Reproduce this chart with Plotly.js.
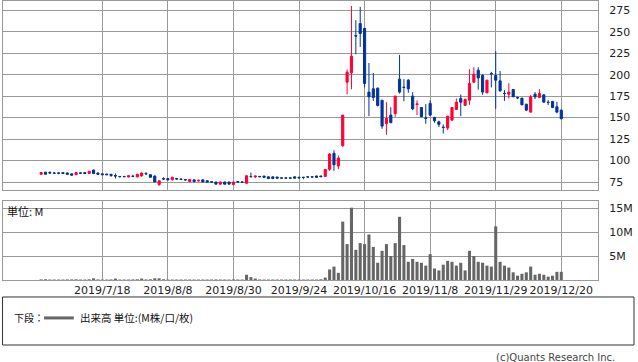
<!DOCTYPE html>
<html><head><meta charset="utf-8">
<script src="https://cdn.plot.ly/plotly-3.0.1.min.js"></script>
<style>html,body{margin:0;padding:0;background:#fff}#chart{width:638px;height:362px}</style>
</head><body><div id="chart"></div>
<script>
const dates = ["2019/6/27","2019/6/28",
"2019/7/1","2019/7/2","2019/7/3","2019/7/4","2019/7/5","2019/7/8","2019/7/9","2019/7/10","2019/7/11","2019/7/12","2019/7/16","2019/7/17","2019/7/18","2019/7/19","2019/7/22","2019/7/23","2019/7/24","2019/7/25","2019/7/26","2019/7/29","2019/7/30","2019/7/31",
"2019/8/1","2019/8/2","2019/8/5","2019/8/6","2019/8/7","2019/8/8","2019/8/9","2019/8/13","2019/8/14","2019/8/15","2019/8/16","2019/8/19","2019/8/20","2019/8/21","2019/8/22","2019/8/23","2019/8/26","2019/8/27","2019/8/28","2019/8/29","2019/8/30",
"2019/9/2","2019/9/3","2019/9/4","2019/9/5","2019/9/6","2019/9/9","2019/9/10","2019/9/11","2019/9/12","2019/9/13","2019/9/17","2019/9/18","2019/9/19","2019/9/20","2019/9/24","2019/9/25","2019/9/26","2019/9/27","2019/9/30",
"2019/10/1","2019/10/2","2019/10/3","2019/10/4","2019/10/7","2019/10/8","2019/10/9","2019/10/10","2019/10/11","2019/10/15","2019/10/16","2019/10/17","2019/10/18","2019/10/21","2019/10/23","2019/10/24","2019/10/25","2019/10/28","2019/10/29","2019/10/30","2019/10/31",
"2019/11/1","2019/11/5","2019/11/6","2019/11/7","2019/11/8","2019/11/11","2019/11/12","2019/11/13","2019/11/14","2019/11/15","2019/11/18","2019/11/19","2019/11/20","2019/11/21","2019/11/22","2019/11/25","2019/11/26","2019/11/27","2019/11/28","2019/11/29",
"2019/12/2","2019/12/3","2019/12/4","2019/12/5","2019/12/6","2019/12/9","2019/12/10","2019/12/11","2019/12/12","2019/12/13","2019/12/16","2019/12/17","2019/12/18","2019/12/19","2019/12/20"];

const openP = [84,86.5,86,85.5,85.5,86,85.5,84.5,83.5,85.5,
86,85,89,85.5,84.5,84.3,84,82.5,81.5,81.5,
80.8,81.8,81,82,84.8,83.5,82,72,79,79,
77.5,79,78.5,77.8,75.5,77.5,76.2,77.5,76.5,75.2,
75,72.5,75,75,72,75.5,75,73.5,81.5,81,
81.5,82,81,81,80.8,79.8,79.8,79.8,81,80.5,
80.5,81,81,82,82,81.5,89.8,108.4,93.6,117.2,
191.3,202.1,245.5,259.5,254,179.7,183.5,184.3,170.3,142.8,
152.9,154.8,194.8,185.5,193.6,175,165.2,161.8,149.6,166.5,
150.2,145.1,138.8,137.8,147.1,159.5,172.3,164.2,170.3,191.2,
205.2,199,178.8,201.4,199,192.8,178.3,177.3,182.8,173.3,
172.7,165.7,156.4,177.3,173.5,176.5,167.9,168.8,162.6,158.7];

const highP = [86.5,86.5,87.5,86.5,86,86.5,86,85,86.5,86.5,
86.5,87.5,89.3,86,85,84.5,84.5,85,82,82,
82.5,83.5,84.5,86,86.5,84,82.5,76.5,80.5,79.5,
81,79.5,79,78.5,78.5,78,77.5,78.3,77,75.5,
75,75.3,75.3,75,75.2,76,75.5,82.5,86,82,
82,82,81.5,81.3,81,80.3,80.3,80.3,81.5,81,
81,81.5,81.5,82.3,82.3,90,108.5,112,106,152.9,
206,280,263.4,279,254,213.7,202,185,170.3,168,
162,175.5,223,194.8,194.8,179.7,170,162,165.7,170,
151,146.5,142,151.7,161.8,172.3,177,172.3,206.4,208.7,
208.7,200.5,194,203.3,227.3,204.4,182,190,183,174.5,
173,166,176.5,179.7,183,177.3,170.3,169.5,168.3,159.5];

const lowP = [83.5,84,84.5,84.5,84,84.5,83.5,82.5,83.5,84.5,
85,84.5,84.5,83.5,83.5,83,81,79,80.5,81,
80.5,80.5,80.5,81.5,83.5,80,75,70.5,77.5,77,
77,77.5,77.5,76.5,75,75,75.5,75,74.5,74.5,
72.5,72,72,72.5,71.5,74,74.3,73.3,80.5,79.5,
80.5,80,78.5,78.5,79,79,79,79,79.3,79.5,
78.2,80.5,80.5,80.3,81,81,88,88,90,116,
177,183,223.8,232.3,185.1,151.7,169.5,163,137,130,
144,151,178,169,178.8,158.7,152.9,151,142.8,151.7,
144,139,131.5,135.5,146,159,151.7,163.5,164.9,190.5,
182.6,176.5,178.5,185.1,160.2,180,169.5,172.3,174,171.5,
164.5,157.5,155.7,171.5,172.7,167.3,164.5,161,155,148.6];

const closeP = [86,84,85.5,85.3,85.3,85,84,83,86,85.3,
85,87.5,84.8,84,83.5,83.5,82.5,82,81.2,81.2,
82.3,81.5,84,85.5,84.5,80.5,75,76.5,78.5,77.5,
80.5,78.5,78,77.5,78,75.5,77,75,75,75,
72.5,75,72.5,72.5,75,75,74.8,82.3,81.2,82,
81.2,80.5,79,79,79.5,79.5,79.5,79.5,79.5,79.8,
80.3,80.8,80.8,80.5,81.2,89.6,107.6,95.1,102.9,152.9,
202.9,221.5,245,247.9,189.8,174.2,173.5,164.2,140.1,149,
144,175,179.7,185.1,183.5,160.2,165.9,151,149.2,152.9,
146.3,142.1,138.6,151.7,161.8,168,168,171.1,189.8,200.5,
196.2,179.7,193.6,201,193.6,181.2,178,179.7,174.2,173,
164.9,158.7,174.2,174.2,178.1,168,167.7,161.8,156.4,148.6];

// volume in millions
const volumeM = [0.12,0.15,0.1,0.1,0.1,0.1,0.12,0.12,0.15,0.1,
0.1,0.15,0.35,0.12,0.1,0.1,0.12,0.3,0.1,0.1,
0.1,0.12,0.15,0.3,0.12,0.15,0.35,0.35,0.15,0.1,
0.1,0.1,0.1,0.1,0.1,0.1,0.1,0.1,0.1,0.1,
0.12,0.1,0.1,0.1,0.12,0.1,0.1,1.1,0.6,0.3,
0.12,0.1,0.1,0.1,0.1,0.1,0.1,0.1,0.1,0.1,
0.1,0.1,0.1,0.1,0.15,0.5,2.2,2.8,1.5,12.2,
7.5,15.1,6.3,7.7,7.5,9.5,6.9,3.6,6.1,7.5,
5.0,7.7,13.2,7.3,3.8,4.4,3.8,3.6,3.0,5.4,
2.4,2.0,3.2,4.0,3.8,3.0,3.6,2.0,6.1,5.0,
3.8,3.6,3.0,2.8,11.2,3.8,3.0,2.6,1.6,0.9,
1.3,1.6,2.8,1.1,1.3,1.1,0.7,0.9,1.7,1.7];

const xTicks = ["2019/7/18","2019/8/8","2019/8/30","2019/9/24","2019/10/16","2019/11/8","2019/11/29","2019/12/20"];
const priceTicks = [75,100,125,150,175,200,225,250,275];
const volTicks = [5,10,15];

const RED = "#ff0033", BLUE = "#003399", GRID = "#999999";
const tickFont = {family: "DejaVu Sans, sans-serif", size: 11, color: "#222"};

const traces = [
  {type: "candlestick", x: dates, open: openP, high: highP, low: lowP, close: closeP,
   xaxis: "x", yaxis: "y",
   increasing: {line: {color: RED, width: 1}, fillcolor: RED},
   decreasing: {line: {color: BLUE, width: 1}, fillcolor: BLUE},
   whiskerwidth: 0, hoverinfo: "skip", showlegend: false},
  {type: "bar", x: dates, y: volumeM, xaxis: "x2", yaxis: "y2",
   marker: {color: "#666666", line: {width: 0}}, hoverinfo: "skip", showlegend: false}
];

const X0 = -8.72, X1 = 127.4;
const layout = {
  width: 638, height: 362,
  margin: {l: 3, r: 40, t: 1, b: 82},
  paper_bgcolor: "#fff", plot_bgcolor: "#fff",
  showlegend: false, bargap: 0.3,
  xaxis: {type: "category", range: [X0, X1], domain: [0, 1], anchor: "y",
    rangeslider: {visible: false}, tickmode: "array", tickvals: xTicks, ticktext: xTicks,
    showticklabels: false, showgrid: true, gridcolor: GRID, gridwidth: 1,
    showline: true, linecolor: GRID, linewidth: 1, mirror: true, ticks: "", zeroline: false},
  yaxis: {domain: [0.3226, 1], range: [65.7, 285.8], side: "right", tickmode: "array",
    tickvals: priceTicks, ticktext: priceTicks.map(String), tickfont: tickFont,
    ticklabelstandoff: 8, showgrid: true, gridcolor: GRID, gridwidth: 1,
    showline: true, linecolor: GRID, linewidth: 1, mirror: true, ticks: "", zeroline: false},
  xaxis2: {type: "category", matches: "x", range: [X0, X1], domain: [0, 1], anchor: "y2",
    rangeslider: {visible: false}, tickmode: "array", tickvals: xTicks, ticktext: xTicks,
    tickfont: tickFont, ticklabelstandoff: 0, tickangle: 0,
    showgrid: true, gridcolor: GRID, gridwidth: 1,
    showline: true, linecolor: GRID, linewidth: 1, mirror: true, ticks: "", zeroline: false},
  yaxis2: {domain: [0, 0.2832], range: [0, 16.5], side: "right", anchor: "x2", tickmode: "array",
    tickvals: volTicks, ticktext: volTicks.map(v => v + "M"), tickfont: tickFont,
    ticklabelstandoff: 8, showgrid: true, gridcolor: GRID, gridwidth: 1,
    showline: true, linecolor: GRID, linewidth: 1, mirror: true, ticks: "", zeroline: false},
  shapes: [
    {type: "rect", xref: "paper", yref: "paper", x0: -0.0008, x1: 1.0605, y0: -0.0609, y1: -0.233,
     line: {color: "#333", width: 1}, fillcolor: "rgba(0,0,0,0)"},
    {type: "line", xref: "paper", yref: "paper", x0: 0.069, x1: 0.119, y0: -0.136, y1: -0.136,
     line: {color: "#666", width: 3}}
  ],
  annotations: [
    {xref: "paper", yref: "paper", x: 0.004, y: 0.249, xanchor: "left", yanchor: "middle",
     text: "単位: M", showarrow: false, font: {family: "Noto Sans CJK JP, DejaVu Sans", size: 11, color: "#111"}},
    {xref: "paper", yref: "paper", x: 0.0151, y: -0.136, xanchor: "left", yanchor: "middle",
     text: "下段：", showarrow: false, font: {family: "Noto Sans CJK JP, DejaVu Sans", size: 10, color: "#111"}},
    {xref: "paper", yref: "paper", x: 0.126, y: -0.136, xanchor: "left", yanchor: "middle",
     text: "出来高 単位:(M株/口/枚)", showarrow: false, font: {family: "Noto Sans CJK JP, DejaVu Sans", size: 10.5, color: "#111"}},
    {xref: "paper", yref: "paper", x: 1.032, y: -0.277, xanchor: "right", yanchor: "middle",
     text: "(c)Quants Research Inc.", showarrow: false, font: {family: "DejaVu Sans, sans-serif", size: 10, color: "#444"}}
  ]
};

Plotly.newPlot("chart", traces, layout, {staticPlot: true, displayModeBar: false});
</script></body></html>
